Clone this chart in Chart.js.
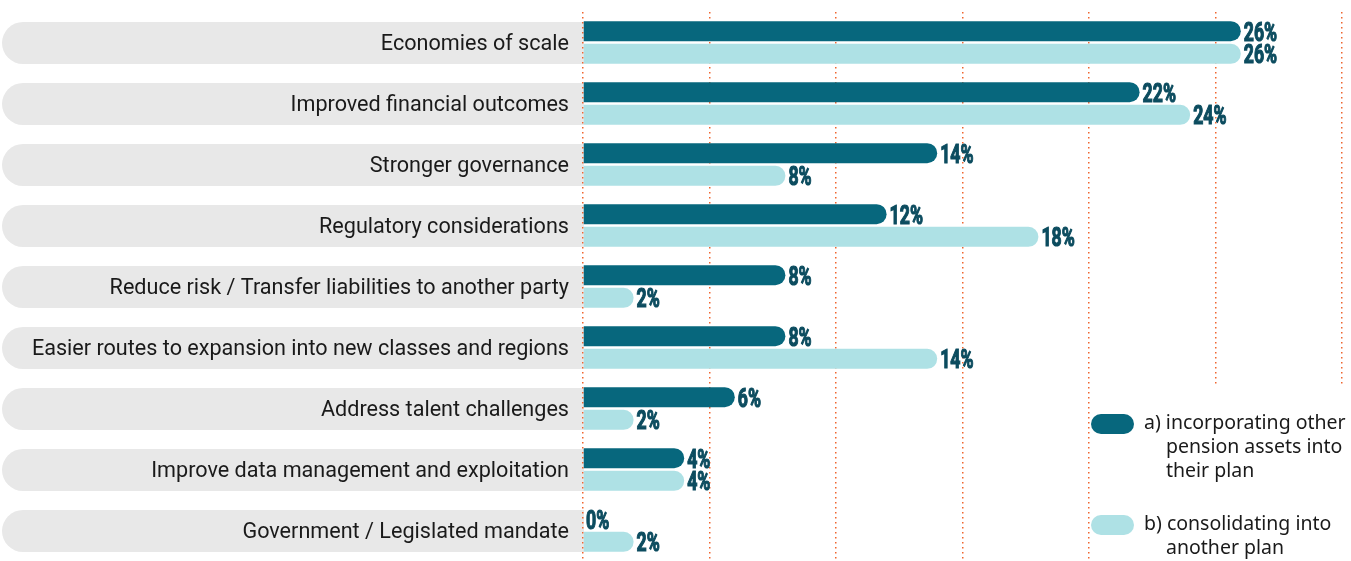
<!DOCTYPE html>
<html>
<head>
<meta charset="utf-8">
<script src="https://cdn.jsdelivr.net/npm/chart.js@4"></script>
<style>
  body { margin: 0; background: #fff; }
  #wrap { width: 1351px; height: 561px; position: relative; }
</style>
</head>
<body>
<div id="wrap"><canvas id="chart"></canvas></div>
<script>
const reasons = [
  'Economies of scale',
  'Improved financial outcomes',
  'Stronger governance',
  'Regulatory considerations',
  'Reduce risk / Transfer liabilities to another party',
  'Easier routes to expansion into new classes and regions',
  'Address talent challenges',
  'Improve data management and exploitation',
  'Government / Legislated mandate'
];
const incorporating = [26, 22, 14, 12, 8, 8, 6, 4, 0];
const consolidating = [26, 24, 8, 18, 2, 14, 2, 4, 2];
const seriesNames = [
  ['a) incorporating other', 'pension assets into', 'their plan'],
  ['b) consolidating into', 'another plan']
];

const DARK = '#07677d';
const LIGHT = '#aee1e5';
const LABEL = '#0c4c5f';

// grey pills behind each category row (drawn before the axes so the labels sit on top)
const rowPills = {
  id: 'rowPills',
  beforeDraw(chart) {
    const ctx = chart.ctx;
    const y = chart.scales.y;
    const left = 2, right = chart.chartArea.left + 1, h = 42, r = 21;
    ctx.save();
    ctx.fillStyle = '#e8e8e8';
    reasons.forEach((_, i) => {
      const cy = y.getPixelForValue(i) + 0.5;
      const top = cy - h / 2;
      ctx.beginPath();
      ctx.moveTo(right, top);
      ctx.lineTo(left + r, top);
      ctx.arc(left + r, cy, r, -Math.PI / 2, Math.PI / 2, true);
      ctx.lineTo(right, top + h);
      ctx.closePath();
      ctx.fill();
    });
    ctx.restore();
  }
};

// percentage labels at the end of each bar, in a squeezed heavy face
const valueLabels = {
  id: 'valueLabels',
  afterDatasetsDraw(chart) {
    const ctx = chart.ctx;
    ctx.save();
    ctx.fillStyle = LABEL;
    ctx.font = 'bold 26px Roboto';
    ctx.textBaseline = 'alphabetic';
    ctx.strokeStyle = LABEL;
    ctx.lineWidth = 1.2;
    chart.data.datasets.forEach((ds, di) => {
      chart.getDatasetMeta(di).data.forEach((bar, i) => {
        ctx.save();
        ctx.translate(bar.x + 3, bar.y + 9.5);
        ctx.scale(0.68, 1);
        ctx.fillText(ds.data[i] + '%', 0, 0);
        ctx.strokeText(ds.data[i] + '%', 0, 0);
        ctx.restore();
      });
    });
    ctx.restore();
  }
};

// legend block in the lower right corner
const sideLegend = {
  id: 'sideLegend',
  afterDraw(chart) {
    const ctx = chart.ctx;
    ctx.save();
    ctx.fillStyle = '#fff';
    ctx.fillRect(1092, 386, 259, 175);
    const items = [
      { color: DARK, top: 414 },
      { color: LIGHT, top: 515 }
    ];
    ctx.font = '19.5px "Noto Sans"';
    ctx.textBaseline = 'middle';
    items.forEach((it, k) => {
      ctx.fillStyle = it.color;
      ctx.beginPath();
      ctx.roundRect(1091, it.top, 43, 20, 10);
      ctx.fill();
      ctx.fillStyle = '#1a1a1a';
      seriesNames[k].forEach((line, j) => {
        ctx.fillText(line, j === 0 ? 1144 : 1166, it.top + 9 + j * 24);
      });
    });
    ctx.restore();
  }
};

new Chart(document.getElementById('chart'), {
  type: 'bar',
  data: {
    labels: reasons,
    datasets: [{
      label: seriesNames[0].join(' '),
      data: incorporating,
      backgroundColor: DARK
    }, {
      label: seriesNames[1].join(' '),
      data: consolidating,
      backgroundColor: LIGHT
    }]
  },
  options: {
    indexAxis: 'y',
    responsive: true,
    maintainAspectRatio: false,
    animation: false,
    layout: { padding: { top: 12, right: 9, bottom: 0, left: 0 } },
    datasets: {
      bar: {
        categoryPercentage: 0.74,
        barPercentage: 0.89,
        borderRadius: 10,
        borderSkipped: 'start'
      }
    },
    scales: {
      x: {
        min: 0,
        max: 30,
        afterFit(scale) {
          scale.height = 0;
          scale.paddingLeft = scale.paddingRight = 0;
        },
        ticks: { display: false, stepSize: 5 },
        grid: {
          color: '#f0652e',
          lineWidth: 1.5,
          drawTicks: false
        },
        border: { display: false, dash: [1.5, 3.5] }
      },
      y: {
        afterFit(scale) {
          scale.width = 583;
          scale.paddingTop = scale.paddingBottom = 0;
        },
        grid: { display: false },
        border: { display: false },
        ticks: {
          padding: 6,
          labelOffset: 2.5,
          color: '#1a1a1a',
          font: { family: 'Roboto', size: 21.6 }
        }
      }
    },
    plugins: {
      legend: { display: false },
      tooltip: { enabled: false }
    }
  },
  plugins: [rowPills, valueLabels, sideLegend]
});
</script>
</body>
</html>
